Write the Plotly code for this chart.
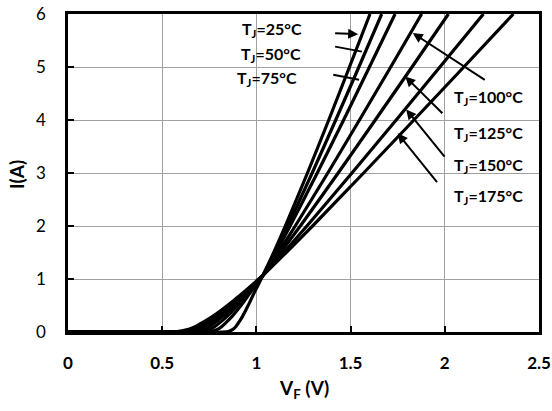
import plotly.graph_objects as go

# Forward current levels (A)
current_a = [0, 0.01, 0.05, 0.1, 0.2, 0.3, 0.4, 0.55, 0.7, 0.85, 1.07, 1.5, 2, 3, 4, 5, 6]

# Forward voltage (V) at each current level, per junction temperature
vf_25 = [0.0, 0.85, 0.875, 0.89, 0.91, 0.927, 0.942, 0.963, 0.983, 1.004, 1.035, 1.092, 1.154, 1.271, 1.384, 1.494, 1.603]
vf_50 = [0.0, 0.756, 0.793, 0.815, 0.845, 0.872, 0.896, 0.929, 0.959, 0.990, 1.035, 1.097, 1.166, 1.296, 1.421, 1.544, 1.665]
vf_75 = [0.0, 0.710, 0.753, 0.778, 0.814, 0.845, 0.873, 0.912, 0.948, 0.984, 1.035, 1.104, 1.179, 1.323, 1.463, 1.600, 1.736]
vf_100 = [0.0, 0.672, 0.720, 0.748, 0.788, 0.823, 0.855, 0.898, 0.938, 0.978, 1.035, 1.116, 1.206, 1.379, 1.547, 1.713, 1.877]
vf_125 = [0.0, 0.639, 0.692, 0.722, 0.766, 0.805, 0.839, 0.887, 0.930, 0.974, 1.035, 1.128, 1.233, 1.434, 1.631, 1.826, 2.019]
vf_150 = [0.0, 0.610, 0.666, 0.699, 0.745, 0.787, 0.825, 0.876, 0.922, 0.969, 1.035, 1.145, 1.268, 1.507, 1.742, 1.974, 2.205]
vf_175 = [0.0, 0.580, 0.640, 0.675, 0.725, 0.770, 0.810, 0.865, 0.915, 0.965, 1.035, 1.158, 1.298, 1.569, 1.836, 2.101, 2.364]

series = [("25", vf_25), ("50", vf_50), ("75", vf_75), ("100", vf_100),
          ("125", vf_125), ("150", vf_150), ("175", vf_175)]

x_ticks = [0, 0.5, 1, 1.5, 2, 2.5]
x_tick_labels = ["0", "0.5", "1", "1.5", "2", "2.5"]
y_ticks = [0, 1, 2, 3, 4, 5, 6]

FONT = "Lato"

fig = go.Figure()
for name, vf in series:
    fig.add_trace(go.Scatter(
        x=vf, y=current_a, mode="lines", name=f"Tj={name}°C",
        line=dict(color="black", width=3.2, shape="spline", smoothing=0.5),
        showlegend=False, hoverinfo="skip",
    ))

# Labels: (temp, text x, text y, arrow tail x, tail y, head x, head y, arrowhead)
labels = [
    ("25", 1.085, 5.7, 1.41, 5.64, 1.54, 5.62, 2),
    ("50", 1.08, 5.23, 1.41, 5.39, 1.56, 5.29, 0),
    ("75", 1.055, 4.78, 1.40, 4.86, 1.545, 4.76, 0),
    ("100", 2.23, 4.42, 2.22, 4.74, 1.83, 5.64, 2),
    ("125", 2.23, 3.74, 1.995, 4.1, 1.79, 4.82, 2),
    ("150", 2.23, 3.14, 2.005, 3.28, 1.795, 4.2, 2),
    ("175", 2.23, 2.55, 1.965, 2.8, 1.75, 3.75, 2),
]

for t, tx, ty, ax_, ay_, hx, hy, head in labels:
    fig.add_annotation(
        x=tx, y=ty, xref="x", yref="y",
        text=f"<b>T<sub>J</sub>={t}°C</b>", showarrow=False,
        font=dict(family=FONT, size=16, color="black"),
    )
    fig.add_annotation(
        x=hx, y=hy, ax=ax_, ay=ay_, xref="x", yref="y", axref="x", ayref="y",
        text="", showarrow=True, arrowhead=head, arrowsize=1.0, arrowwidth=2,
        arrowcolor="black", standoff=0,
    )

# Axis titles
fig.add_annotation(
    x=0.5, y=-0.18, xref="paper", yref="paper", xanchor="center", yanchor="middle",
    text="<b>V<sub>F</sub> (V)</b>", showarrow=False,
    font=dict(family=FONT, size=19, color="black"),
)
fig.add_annotation(
    x=-0.108, y=0.494, xref="paper", yref="paper", xanchor="center", yanchor="middle",
    text="<b>I(A)</b>", showarrow=False, textangle=-90,
    font=dict(family=FONT, size=19, color="black"),
)

fig.update_layout(
    width=552, height=411,
    margin=dict(l=68, r=13, t=14, b=79),
    plot_bgcolor="white", paper_bgcolor="white",
    font=dict(family=FONT, color="black"),
)
fig.update_xaxes(
    range=[0, 2.5], tickvals=x_ticks, ticktext=[f"<b>{s}</b>" for s in x_tick_labels],
    tickfont=dict(family=FONT, size=17, color="black"),
    showgrid=True, gridcolor="#a0a0a0", gridwidth=1,
    showline=True, linecolor="black", linewidth=2.5, mirror=True,
    ticks="inside", ticklen=6, tickwidth=2, tickcolor="black",
    ticklabelstandoff=14, zeroline=False, automargin=False,
)
fig.update_yaxes(
    range=[0, 6], tickvals=y_ticks,
    tickfont=dict(family=FONT, size=17, color="black"),
    showgrid=True, gridcolor="#a0a0a0", gridwidth=1,
    showline=True, linecolor="black", linewidth=2.5, mirror=True,
    ticks="inside", ticklen=6, tickwidth=2, tickcolor="black",
    ticklabelstandoff=16, zeroline=False, automargin=False,
)

fig.write_html(
    "out.html",
    config={"displayModeBar": False},
    post_script="document.body.style.margin='0';document.body.style.overflow='hidden';",
)
